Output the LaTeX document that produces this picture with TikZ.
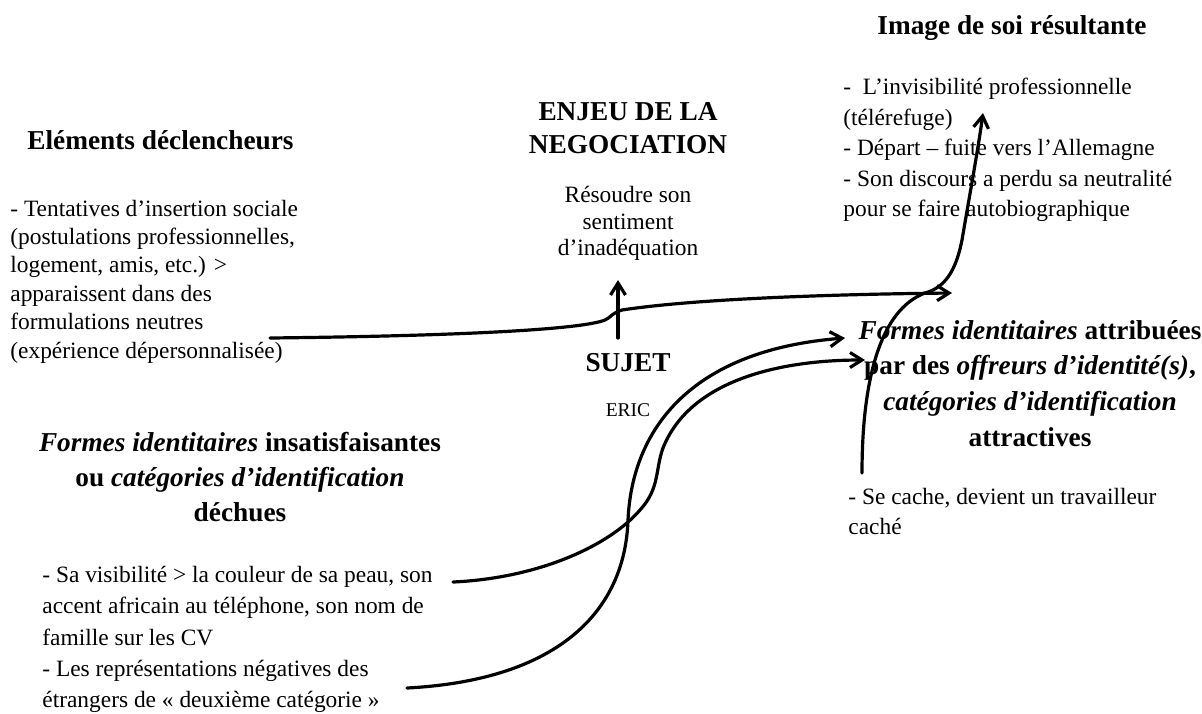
\documentclass[tikz,border=0pt]{standalone}
\usepackage{fontspec}
\setmainfont{Liberation Serif}
\usetikzlibrary{arrows.meta}
\begin{document}
\begin{tikzpicture}[x=0.5pt,y=-0.5pt,
  body/.style={font=\fontsize{11.7}{#1}\selectfont, align=left, inner sep=0pt},
  body/.default=14.2,
  head/.style={font=\fontsize{13.65}{#1}\selectfont\bfseries, align=center, inner sep=0pt},
  head/.default=17.8,
  conn/.style={line width=1.6pt, line cap=round, line join=round},
  arr/.style={conn, -{Straight Barb[length=6pt,width=7.5pt]}}]
\path[use as bounding box] (0,0) rectangle (1202,713);

% ---- text nodes ----
\node[head, anchor=north west] (trig) at (27,130) {Eléments déclencheurs};
\node[body, anchor=north west] (trigtxt) at (10,199.5)
  {- Tentatives d’insertion sociale\\(postulations professionnelles,\\logement, amis, etc.) >\\apparaissent dans des\\formulations neutres\\(expérience dépersonnalisée)};

\node[head=16.7, anchor=north] (enjeu) at (628,102) {ENJEU DE LA\\NEGOCIATION};
\node[body=13.3, align=center, anchor=north] (resoudre) at (628,186) {Résoudre son\\sentiment\\d’inadéquation};

\node[head, anchor=north] (image) at (1012,15) {Image de soi résultante};
\node[body=15.2, anchor=north west] (imagetxt) at (843,78)
  {-\ \ L’invisibilité professionnelle\\(télérefuge)\\- Départ – fuite vers l’Allemagne\\- Son discours a perdu sa neutralité\\pour se faire autobiographique};

\node[head] (sujet) at (628,363) {SUJET};
\node[font=\fontsize{9.75}{12}\selectfont, inner sep=0pt] (eric) at (628,410) {ERIC};

\node[head=17.8, anchor=north] (attr) at (1030,320)
  {\textit{Formes identitaires} attribuées\\par des \textit{offreurs d’identité(s)},\\\textit{catégories d’identification}\\attractives};
\node[body=15, anchor=north west] (cache) at (848,488) {- Se cache, devient un travailleur\\caché};

\node[head=17.5, anchor=north] (dechu) at (240,432)
  {\textit{Formes identitaires} insatisfaisantes\\ou \textit{catégories d’identification}\\déchues};
\node[body=15.6, anchor=north west] (dechutxt) at (42,566)
  {- Sa visibilité > la couleur de sa peau, son\\accent africain au téléphone, son nom de\\famille sur les CV\\- Les représentations négatives des\\étrangers de «~deuxième catégorie~»};

% ---- connector end points ----
\coordinate (a0) at (270,338);
\coordinate (a1) at (952,293);
\coordinate (b0) at (618,338);
\coordinate (b1) at (618,280);
\coordinate (c0) at (862,473);
\coordinate (c1) at (983,113);
\coordinate (d10) at (453,582);
\coordinate (d11) at (865,360);
\coordinate (d20) at (407,688);
\coordinate (d21) at (845,338);

% ---- connectors ----
\draw[arr] (a0) .. controls (450,336) and (580,330) .. (605,320)
  .. controls (610,318) and (612,313) .. (622,310)
  .. controls (700,298) and (850,294) .. (a1);
\draw[arr] (b0) -- (b1);
\draw[arr] (c0) .. controls (862,380) and (880,310) .. (925,293)
  .. controls (948,287) and (957,265) .. (962,240)
  .. controls (967,210) and (978,150) .. (c1);
\draw[arr] (d10) .. controls (540,578) and (610,545) .. (640,510)
  .. controls (660,488) and (655,470) .. (663,448)
  .. controls (690,380) and (780,360) .. (d11);
\draw[arr] (d20) .. controls (560,680) and (625,610) .. (628,520)
  .. controls (632,430) and (690,350) .. (d21);
\end{tikzpicture}
\end{document}
